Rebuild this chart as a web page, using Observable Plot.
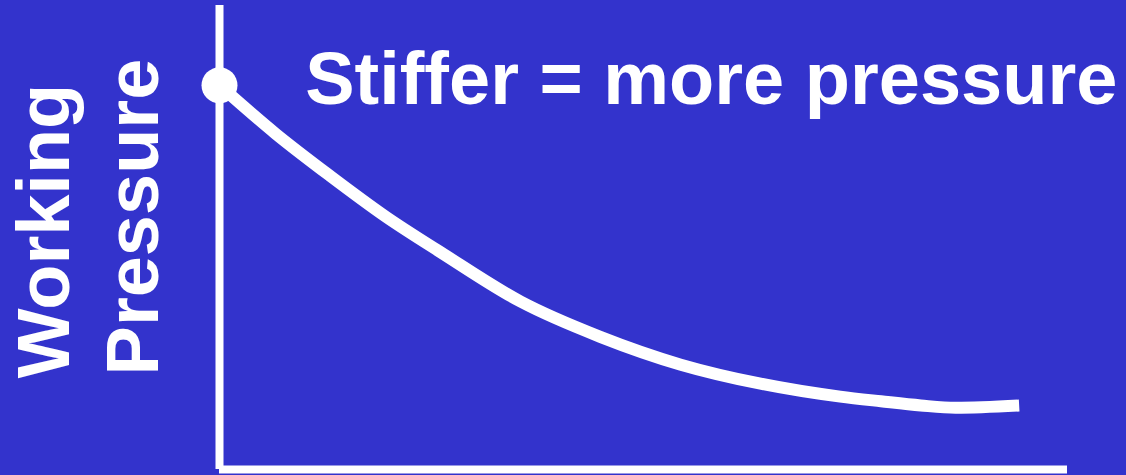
<!DOCTYPE html>
<html>
<head>
<meta charset="utf-8">
<script src="https://cdn.jsdelivr.net/npm/d3@7"></script>
<script src="https://cdn.jsdelivr.net/npm/@observablehq/plot@0.6"></script>
<style>
  html, body { margin: 0; padding: 0; background: #3333CC; overflow: hidden; }
</style>
</head>
<body>
<div id="chart"></div>
<script>
// Stiffness (0–100, arbitrary units) against working pressure (0–100)
const stiffness = [0, 6.6, 13.1, 19.6, 26.1, 35.5, 44.9, 54.4, 63.8, 73.2, 78.0, 82.7, 86.8, 94.3];
const pressure  = [82.8, 72.4, 63.2, 54.5, 46.8, 36.2, 28.6, 22.6, 18.5, 15.7, 14.7, 13.8, 13.3, 13.8];

const title = "Stiffer = more pressure";
const yLabels = ["Working", "Pressure"];

const curve = stiffness.map((s, i) => ({stiffness: s, pressure: pressure[i]}));
const start = [curve[0]];

const font = "'Liberation Sans', Arial, Helvetica, sans-serif";

const chart = Plot.plot({
  width: 1126,
  height: 475,
  marginLeft: 219,
  marginRight: 59,
  marginTop: 5,
  marginBottom: 6,
  style: {background: "#3333CC", fontFamily: font},
  x: {domain: [0, 100], axis: null},
  y: {domain: [0, 100], axis: null},
  marks: [
    // axes
    Plot.ruleX([0], {y1: 0, y2: 100, stroke: "white", strokeWidth: 8}),
    Plot.ruleY([0], {x1: 0, x2: 100, stroke: "white", strokeWidth: 8}),
    // pressure curve
    Plot.line(curve, {
      x: "stiffness", y: "pressure", curve: "monotone-x",
      stroke: "white", strokeWidth: 12, strokeLinecap: "butt", strokeLinejoin: "round"
    }),
    Plot.dot(start, {x: "stiffness", y: "pressure", r: 18, fill: "white", stroke: null}),
    // annotation
    Plot.text([title], {
      x: 10.1, y: 78.7, text: d => d, textAnchor: "start", lineAnchor: "bottom",
      fill: "white", fontSize: 74, fontWeight: "bold"
    }),
    // rotated y-axis title
    Plot.text([yLabels[0]], {
      x: -17.8, y: 51.4, text: d => d, rotate: -90, textAnchor: "middle", lineAnchor: "bottom",
      fill: "white", fontSize: 74, fontWeight: "bold"
    }),
    Plot.text([yLabels[1]], {
      x: -7.3, y: 54.4, text: d => d, rotate: -90, textAnchor: "middle", lineAnchor: "bottom",
      fill: "white", fontSize: 74, fontWeight: "bold"
    })
  ]
});

document.getElementById("chart").appendChild(chart);
</script>
</body>
</html>
